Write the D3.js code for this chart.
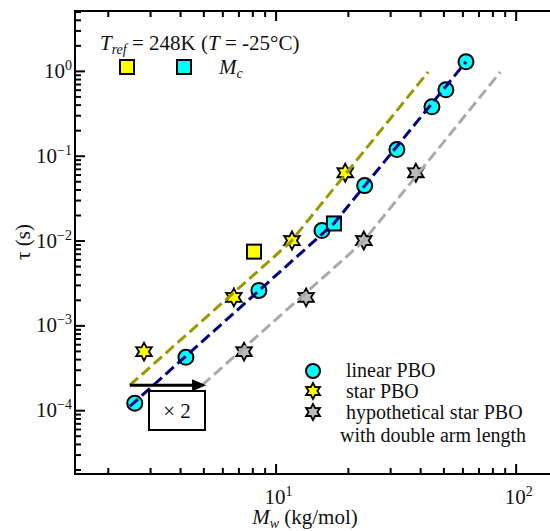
<!DOCTYPE html>
<html><head><meta charset="utf-8">
<script src="https://cdn.jsdelivr.net/npm/d3@7"></script>
<style>body{margin:0;background:#fff}svg{display:block}text{font-family:"Liberation Serif","Times New Roman",serif;fill:#111}</style>
</head><body><svg id="c" width="550" height="531"></svg>
<script>
// ---- data ----
const linearMw = [2.59, 4.23, 8.52, 15.6, 23.5, 32.0, 44.8, 51.2, 62.1];
const linearTau = [1.21e-4, 4.2e-4, 2.58e-3, 0.0131, 0.0444, 0.118, 0.377, 0.598, 1.28];
const starMw = [2.83, 6.70, 11.7, 19.5];
const starTau = [4.9e-4, 2.14e-3, 0.0100, 0.063];
const hypoMw = [7.39, 13.4, 23.3, 38.4];
const hypoTau = [4.9e-4, 2.14e-3, 0.0100, 0.063];
const mcStarMw = [8.13], mcStarTau = [7.4e-3];
const mcLinMw = [17.5], mcLinTau = [0.0159];
const starFitMw = [2.47, 11.5, 43.2];
const starFitTau = [1.97e-4, 0.0095, 0.973];
const linFitMw = [2.47, 17.5, 62.1];
const linFitTau = [1.11e-4, 0.0159, 1.28];
const hypoFitMw = [4.94, 23.0, 86.4];
const hypoFitTau = [1.97e-4, 0.0095, 0.973];
const xTickVals = [10, 100];
const yTickVals = [1e-4, 1e-3, 1e-2, 1e-1, 1];
const xTickLabels = [["10","1"],["10","2"]];
const yTickLabels = [["10","−4"],["10","−3"],["10","−2"],["10","−1"],["10","0"]];

const svg = d3.select("#c");
const L=75, R=560, T=11, B=474;
const x = d3.scaleLog().domain([1.46,153]).range([L,R]);
const y = d3.scaleLog().domain([1.77e-5,5.08]).range([B,T]);
const FS=21, SS=14, LFS=20;

svg.append("rect").attr("x",L).attr("y",T).attr("width",R-L).attr("height",B-T)
  .attr("fill","none").attr("stroke","#000").attr("stroke-width",2);

function minorTicks(sc){const [a,b]=sc.domain();const out=[];for(let e=Math.floor(Math.log10(a));e<=Math.ceil(Math.log10(b));e++){for(let k=2;k<=9;k++){const v=k*Math.pow(10,e);if(v>=a&&v<=b)out.push(v);}}return out;}
const xMaj=d3.axisBottom(x).tickValues(xTickVals).tickSize(-10).tickFormat("");
const xMin=d3.axisBottom(x).tickValues(minorTicks(x)).tickSize(-6).tickFormat("");
const xMajT=d3.axisTop(x).tickValues(xTickVals).tickSize(-10).tickFormat("");
const xMinT=d3.axisTop(x).tickValues(minorTicks(x)).tickSize(-6).tickFormat("");
const yMaj=d3.axisLeft(y).tickValues(yTickVals).tickSize(-10).tickFormat("");
const yMin=d3.axisLeft(y).tickValues(minorTicks(y)).tickSize(-6).tickFormat("");
[[xMaj,`translate(0,${B})`],[xMin,`translate(0,${B})`],[xMajT,`translate(0,${T})`],[xMinT,`translate(0,${T})`],[yMaj,`translate(${L},0)`],[yMin,`translate(${L},0)`]].forEach(([ax,tr])=>{
  const g=svg.append("g").attr("transform",tr).call(ax);
  g.select(".domain").remove();
  g.selectAll("line").attr("stroke","#000").attr("stroke-width",2);
});

xTickVals.forEach((v,i)=>{
  const t=svg.append("text").attr("x",x(v)+3).attr("y",B+30).attr("text-anchor","middle").attr("font-size",FS);
  t.append("tspan").text(xTickLabels[i][0]);
  t.append("tspan").attr("font-size",SS).attr("dy",-8).text(xTickLabels[i][1]);
});
yTickVals.forEach((v,i)=>{
  const t=svg.append("text").attr("x",L-3).attr("y",y(v)+7).attr("text-anchor","end").attr("font-size",FS);
  t.append("tspan").text(yTickLabels[i][0]);
  t.append("tspan").attr("font-size",SS).attr("dy",-8).text(yTickLabels[i][1]);
});

const xt=svg.append("text").attr("x",305).attr("y",524).attr("text-anchor","middle").attr("font-size",FS);
xt.append("tspan").attr("font-style","italic").text("M");
xt.append("tspan").attr("font-style","italic").attr("font-size",SS).attr("dy",4).text("w");
xt.append("tspan").attr("dy",-4).text(" (kg/mol)");
svg.append("text").attr("transform","translate(30,242) rotate(-90)").attr("text-anchor","middle").attr("font-size",FS).text("τ (s)");

function hexPath(r){const p=[];for(let i=0;i<12;i++){const a=Math.PI/6*i-Math.PI/2;const rr=i%2?r*0.55:r;p.push([rr*Math.cos(a),rr*Math.sin(a)]);}return "M"+p.map(d=>d.join(",")).join("L")+"Z";}
const pts=(xs,ys)=>xs.map((v,i)=>[v,ys[i]]);
const line=d3.line().x(d=>x(d[0])).y(d=>y(d[1]));

svg.append("g").selectAll("path").data(pts(starMw,starTau)).join("path")
  .attr("d",hexPath(9)).attr("transform",d=>`translate(${x(d[0])},${y(d[1])})`)
  .attr("fill","#ffff00").attr("stroke","#000").attr("stroke-width",1.8);
svg.append("g").selectAll("path").data(pts(hypoMw,hypoTau)).join("path")
  .attr("d",hexPath(9)).attr("transform",d=>`translate(${x(d[0])},${y(d[1])})`)
  .attr("fill","#bbbbbb").attr("stroke","#000").attr("stroke-width",1.8);
svg.append("g").selectAll("circle").data(pts(linearMw,linearTau)).join("circle")
  .attr("cx",d=>x(d[0])).attr("cy",d=>y(d[1])).attr("r",7.5)
  .attr("fill","#00ffff").attr("stroke","#000").attr("stroke-width",2);
svg.append("g").selectAll("rect").data(pts(mcStarMw,mcStarTau)).join("rect")
  .attr("x",d=>x(d[0])-7).attr("y",d=>y(d[1])-7).attr("width",14).attr("height",14)
  .attr("fill","#ffff00").attr("stroke","#000").attr("stroke-width",2);
svg.append("g").selectAll("rect").data(pts(mcLinMw,mcLinTau)).join("rect")
  .attr("x",d=>x(d[0])-7).attr("y",d=>y(d[1])-7).attr("width",14).attr("height",14)
  .attr("fill","#00ffff").attr("stroke","#000").attr("stroke-width",2);

[[starFitMw,starFitTau,"#999900"],[linFitMw,linFitTau,"#000080"],[hypoFitMw,hypoFitTau,"#aaaaaa"]].forEach(([xs,ys,c])=>{
  svg.append("path").attr("d",line(pts(xs,ys))).attr("fill","none").attr("stroke",c)
    .attr("stroke-width",3).attr("stroke-dasharray","11,5");
});

const ay=y(starFitTau[0]);
svg.append("line").attr("x1",x(starFitMw[0])).attr("x2",x(hypoFitMw[0])-8).attr("y1",ay).attr("y2",ay).attr("stroke","#000").attr("stroke-width",3);
svg.append("path").attr("d",`M${x(hypoFitMw[0])+4},${ay}L${x(hypoFitMw[0])-10},${ay-6}L${x(hypoFitMw[0])-10},${ay+6}Z`).attr("fill","#000");
svg.append("rect").attr("x",149).attr("y",391).attr("width",56).attr("height",39).attr("fill","#fff").attr("stroke","#000").attr("stroke-width",2);
svg.append("text").attr("x",177).attr("y",418).attr("text-anchor","middle").attr("font-size",FS).text("× 2");

const tl=svg.append("text").attr("x",100).attr("y",50).attr("font-size",FS);
tl.append("tspan").attr("font-style","italic").text("T");
tl.append("tspan").attr("font-style","italic").attr("font-size",SS).attr("dy",4).text("ref");
tl.append("tspan").attr("dy",-4).text(" = 248K (");
tl.append("tspan").attr("font-style","italic").text("T");
tl.append("tspan").text(" = -25°C)");
svg.append("rect").attr("x",120).attr("y",60).attr("width",14).attr("height",14).attr("fill","#ffff00").attr("stroke","#000").attr("stroke-width",2);
svg.append("rect").attr("x",177).attr("y",60).attr("width",14).attr("height",14).attr("fill","#00ffff").attr("stroke","#000").attr("stroke-width",2);
const mc=svg.append("text").attr("x",219).attr("y",74).attr("font-size",FS).attr("font-style","italic");
mc.append("tspan").text("M");
mc.append("tspan").attr("font-size",SS).attr("dy",4).text("c");

svg.append("circle").attr("cx",313).attr("cy",371).attr("r",7).attr("fill","#00ffff").attr("stroke","#000").attr("stroke-width",2);
svg.append("path").attr("d",hexPath(8)).attr("transform","translate(313,391)").attr("fill","#ffff00").attr("stroke","#000").attr("stroke-width",1.8);
svg.append("path").attr("d",hexPath(8)).attr("transform","translate(313,412)").attr("fill","#bbbbbb").attr("stroke","#000").attr("stroke-width",1.8);
[["linear PBO",346,377],["star PBO",346,398],["hypothetical star PBO",346,419],["with double arm length",340,442]].forEach(([s,tx,ty])=>{
  svg.append("text").attr("x",tx).attr("y",ty).attr("font-size",LFS).text(s);
});
</script></body></html>
